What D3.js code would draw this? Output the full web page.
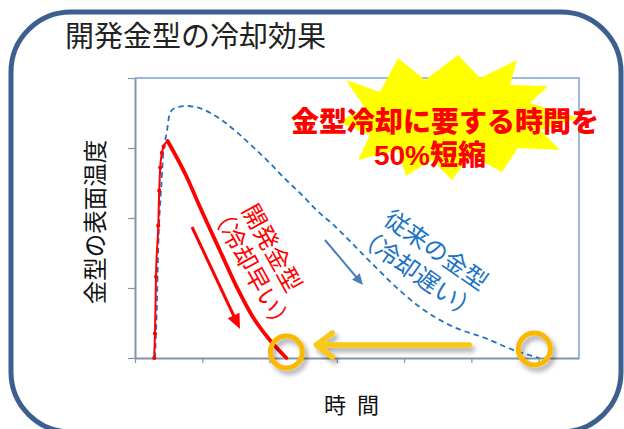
<!DOCTYPE html>
<html><head><meta charset="utf-8">
<script src="https://cdn.jsdelivr.net/npm/d3@7"></script>
<style>
html,body{margin:0;padding:0;background:#fff;}
svg{display:block;font-family:"Noto Sans CJK JP","Noto Sans",sans-serif;}
</style></head>
<body>
<svg id="chart" width="624" height="429"></svg>
<script>
// ---- data ----
const titleText = "開発金型の冷却効果";
const yLabel = "金型の表面温度";
const xLabel = "時 間";
const xTicks = [0, 10, 20, 30, 40, 50, 60];
const yTicks = [0, 100, 200, 300, 400];
// developed mold (fast cooling)
const devTime = [2.86, 2.97, 3.12, 3.46, 3.6, 3.75, 4.0, 4.26, 4.85, 7.67, 9.64, 12.6, 15.1, 17.5, 20.0, 22.5];
const devTemp = [0, 35, 116, 189, 239, 272, 293, 302, 310, 259, 216, 154, 102, 59, 26, 0];
// conventional mold (slow cooling)
const convTime = [2.97, 3.22, 3.46, 3.96, 4.2, 4.7, 5.19, 5.93, 7.67, 9.64, 12.1, 15.1, 17.5, 20.0, 22.5, 24.5, 27.0, 29.4, 34.4, 39.3, 42.3, 47.2, 52.2, 56.1, 60.1];
const convTemp = [0, 64, 159, 254, 293, 321, 350, 357, 360, 357, 345, 323, 302, 279, 254, 236, 211, 191, 143, 97, 73, 45, 28, 12, 0];
const devLabel = ["開発金型", "（冷却早い）"];
const convLabel = ["従来の金型", "（冷却遅い）"];
const calloutLines = ["金型冷却に要する時間を", "50%短縮"];

// ---- layout ----
const svg = d3.select("#chart");
const defs = svg.append("defs");
const f = defs.append("filter").attr("id","shadow").attr("x","-50%").attr("y","-50%").attr("width","200%").attr("height","200%");
f.append("feDropShadow").attr("dx",3).attr("dy",4).attr("stdDeviation",2.5).attr("flood-color","#000").attr("flood-opacity",0.35);

const x = d3.scaleLinear().domain([0, 66]).range([135, 579]);
const y = d3.scaleLinear().domain([0, 400]).range([358, 78]);

// outer frame
svg.append("rect").attr("x",11).attr("y",12).attr("width",610).attr("height",420)
  .attr("rx",60).attr("ry",60).attr("fill","#fff").attr("stroke","#3d5f8f").attr("stroke-width",5);

svg.append("text").attr("x",65).attr("y",47).attr("font-size",29).attr("fill","#222").text(titleText);

// plot frame (top/right)
svg.append("path")
  .attr("d",`M${x(0)},${y(400)}H${x(66)}V${y(0)}`)
  .attr("fill","none").attr("stroke","#7ba2d6").attr("stroke-width",1.5);

// axes
const xAxis = svg.append("g").attr("transform",`translate(0,${y(0)})`)
  .call(d3.axisBottom(x).tickValues(xTicks).tickFormat("").tickSize(5).tickSizeOuter(0));
const yAxis = svg.append("g").attr("transform",`translate(${x(0)},0)`)
  .call(d3.axisLeft(y).tickValues(yTicks).tickFormat("").tickSize(7).tickSizeOuter(0));
[xAxis,yAxis].forEach(g=>{
  g.select(".domain").attr("stroke","#8394a8").attr("stroke-width",2);
  g.selectAll(".tick line").attr("stroke","#8394a8").attr("stroke-width",1.2);
});

svg.append("text").attr("transform","translate(104,222) rotate(-90)")
  .attr("text-anchor","middle").attr("font-size",23.5).attr("fill","#111").text(yLabel);
svg.append("text").attr("x",353).attr("y",413).attr("text-anchor","middle")
  .attr("font-size",22).attr("letter-spacing",3).attr("fill","#111").attr("xml:space","preserve").text(xLabel);

// series
const dev = devTime.map((t,i)=>({t, v:devTemp[i]}));
const conv = convTime.map((t,i)=>({t, v:convTemp[i]}));
const line = d3.line().x(d=>x(d.t)).y(d=>y(d.v)).curve(d3.curveMonotoneX);

svg.append("path").datum(conv).attr("d",line).attr("fill","none")
  .attr("stroke","#1f72c4").attr("stroke-width",1.8).attr("stroke-dasharray","5.5,4");

const peak = devTemp.indexOf(d3.max(devTemp));
svg.append("path").datum(dev.slice(0,peak+1)).attr("d",line).attr("fill","none")
  .attr("stroke","#ff0000").attr("stroke-width",2);
svg.append("path").datum(dev.slice(peak)).attr("d",line).attr("fill","none")
  .attr("stroke","#ff0000").attr("stroke-width",3.8).attr("stroke-linecap","round");
svg.selectAll("circle.mk").data(dev.slice(0,peak)).join("circle").attr("class","mk")
  .attr("cx",d=>x(d.t)).attr("cy",d=>y(d.v)).attr("r",2.1).attr("fill","#ff0000");

// arrows along curves
function arrow(x1,y1,x2,y2,color,w,hl,hw){
  const a = Math.atan2(y2-y1,x2-x1);
  const bx = x2 - hl*Math.cos(a), by = y2 - hl*Math.sin(a);
  svg.append("line").attr("x1",x1).attr("y1",y1).attr("x2",bx+Math.cos(a)).attr("y2",by+Math.sin(a))
    .attr("stroke",color).attr("stroke-width",w);
  const px = -Math.sin(a)*hw/2, py = Math.cos(a)*hw/2;
  svg.append("path").attr("d",`M${x2},${y2}L${bx+px},${by+py}L${bx-px},${by-py}Z`).attr("fill",color);
}
arrow(192,227,240,329,"#ff0000",3,15,13);
arrow(325,240,363,285,"#4a7ebb",2,11,10);

// rotated labels
function rotLabel(cx,cy,ang,lines,color,fs,gap,shift){
  const g = svg.append("g").attr("transform",`translate(${cx},${cy}) rotate(${ang})`);
  const t = g.append("text").attr("text-anchor","middle").attr("font-size",fs).attr("fill",color);
  lines.forEach((s,i)=>t.append("tspan").attr("x", i? shift: 0).attr("y", i*gap).attr("dy","0.36em").text(s));
}
rotLabel(272,248,61,devLabel,"#ff0000",24,28,8);
rotLabel(436,250,35,convLabel,"#1a72c6",24,30,-2);

// yellow arrow
const endDev = dev[dev.length-1], endConv = conv[conv.length-1];
svg.append("path")
  .attr("d",`M${x(endConv.t)-70},${y(0)-13}H${x(endDev.t)+31}M${x(endDev.t)+46},${y(0)-25}L${x(endDev.t)+30},${y(0)-13}L${x(endDev.t)+46},${y(0)-1}`)
  .attr("fill","none").attr("stroke","#fbc712").attr("stroke-width",5.5)
  .attr("stroke-linecap","round").attr("stroke-linejoin","round").attr("filter","url(#shadow)");

// orange circles
[[x(endDev.t), y(0)-6],[x(endConv.t)-5, y(0)-9]].forEach(([cx,cy])=>{
  svg.append("circle").attr("cx",cx).attr("cy",cy).attr("r",16).attr("fill","none")
    .attr("stroke","#fbb800").attr("stroke-width",5).attr("filter","url(#shadow)");
});

// starburst callout
const burst = [[346,80],[380,92],[398,58],[425,80],[458,55],[480,78],[517,60],[510,85],[548,86],[530,103],[578,118],[540,130],[560,150],[518,148],[502,172],[470,155],[452,180],[432,160],[406,176],[398,150],[358,160],[370,135],[338,122],[365,108]];
svg.append("polygon").attr("points",burst.map(p=>p.join(",")).join(" ")).attr("fill","#ffff00");
const ct = svg.append("text").attr("text-anchor","middle").attr("font-size",28)
  .attr("font-family","'Liberation Sans','Noto Sans CJK JP',sans-serif")
  .attr("font-weight",900).attr("fill","#ff0000");
ct.append("tspan").attr("x",445).attr("y",132).text(calloutLines[0]);
ct.append("tspan").attr("x",430).attr("y",165).text(calloutLines[1]);
</script>
</body></html>
